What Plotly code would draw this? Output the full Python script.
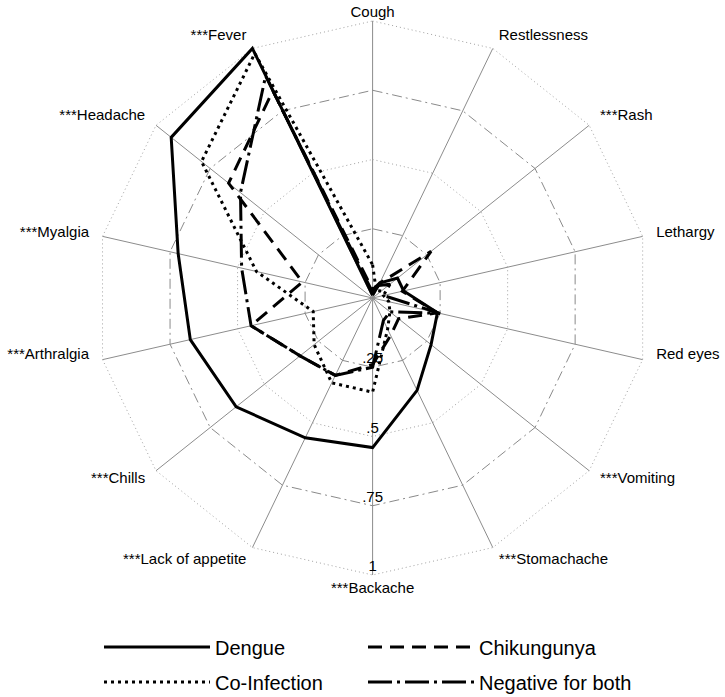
import plotly.graph_objects as go

categories = ["Cough", "Restlessness", "***Rash", "Lethargy", "Red eyes", "***Vomiting",
              "***Stomachache", "***Backache", "***Lack of appetite", "***Chills",
              "***Arthralgia", "***Myalgia", "***Headache", "***Fever"]

dengue       = [0.01, 0.06, 0.115, 0.115, 0.24, 0.27, 0.37, 0.54, 0.56, 0.63, 0.675, 0.72, 0.93, 1.00]
co_infection = [0.12, 0.03, 0.04, 0.04, 0.06, 0.08, 0.125, 0.34, 0.34, 0.27, 0.22, 0.43, 0.79, 0.98]
chikungunya  = [0.03, 0.06, 0.27, 0.11, 0.24, 0.12, 0.15, 0.24, 0.31, 0.335, 0.45, 0.26, 0.665, 0.83]
negative     = [0.02, 0.05, 0.08, 0.04, 0.25, 0.08, 0.09, 0.25, 0.31, 0.335, 0.45, 0.485, 0.61, 0.89]

grid_levels = [0.25, 0.5, 0.75, 1.0]
grid_labels = [".25", ".5", ".75", "1"]

# where each category label sits relative to its spoke end
label_radius = [1.0, 1.05, 1.05, 1.05, 1.05, 1.05, 1.05, 1.05, 1.05, 1.05, 1.05, 1.05, 1.05, 1.05]
label_positions = ["top center", "middle right", "middle right", "middle right", "top right",
                   "middle right", "middle right", "middle center", "middle left", "middle left",
                   "top left", "middle left", "middle left", "middle left"]

FONT = "Liberation Sans, Arial, sans-serif"
R_MAX = 1.07      # radial range headroom so the labels fit inside the subplot

def closed(vals):
    return list(vals) + [vals[0]]

theta_c = closed(categories)

fig = go.Figure()

# spokes (solid grey) from centre to the outer ring
spoke_r, spoke_t = [], []
for c in categories:
    spoke_r += [0, 1, None]
    spoke_t += [c, c, None]
fig.add_trace(go.Scatterpolar(
    r=spoke_r, theta=spoke_t, mode="lines",
    line=dict(color="#8c8c8c", width=1), showlegend=False, hoverinfo="skip"))

# radial grid polygons
for lvl in grid_levels:
    dotted = lvl in (0.5, 1.0)
    fig.add_trace(go.Scatterpolar(
        r=[lvl] * len(theta_c), theta=theta_c, mode="lines",
        line=dict(color="#a0a0a0" if dotted else "#8a8a8a", width=1,
                  dash="1px,3px" if dotted else "10px,4px,2px,4px"),
        showlegend=False, hoverinfo="skip"))

series = [
    ("Dengue", dengue, "solid", "legend"),
    ("Chikungunya", chikungunya, "14px,8px", "legend2"),
    ("Co-Infection", co_infection, "3px,4px", "legend3"),
    ("Negative for both", negative, "24px,5px,3px,5px", "legend4"),
]
for name, vals, dash, lg in series:
    fig.add_trace(go.Scatterpolar(
        r=closed(vals), theta=theta_c, mode="lines", name=name,
        line=dict(color="black", width=3, dash=dash), legend=lg))

# radial tick labels along the Backache spoke
fig.add_trace(go.Scatterpolar(
    r=grid_levels, theta=["***Backache"] * len(grid_levels), mode="text",
    text=grid_labels, textposition="top center",
    textfont=dict(family=FONT, size=15, color="black"),
    showlegend=False, hoverinfo="skip"))

# category labels just outside the outer ring
fig.add_trace(go.Scatterpolar(
    r=label_radius, theta=categories, mode="text",
    text=categories, textposition=label_positions, cliponaxis=False,
    textfont=dict(family=FONT, size=15, color="black"),
    showlegend=False, hoverinfo="skip"))

W, H = 725, 697
cx, cy, R = 372.6, 298.0, 277.0
RF = R * R_MAX

def legend_box(x_px, y_px):
    return dict(orientation="h", x=x_px / W, y=(H - y_px) / H, xanchor="left", yanchor="middle",
                itemwidth=106, font=dict(family=FONT, size=20, color="black"),
                bgcolor="rgba(0,0,0,0)")

fig.update_layout(
    width=W, height=H,
    margin=dict(l=0, r=0, t=0, b=0, autoexpand=False),
    paper_bgcolor="white", plot_bgcolor="white",
    font=dict(family=FONT, size=15, color="black"),
    polar=dict(
        domain=dict(x=[(cx - RF) / W, (cx + RF) / W], y=[(H - cy - RF) / H, (H - cy + RF) / H]),
        gridshape="linear",
        bgcolor="white",
        angularaxis=dict(categoryorder="array", categoryarray=categories,
                         direction="clockwise", rotation=90,
                         showline=False, showgrid=False,
                         ticks="", showticklabels=False),
        radialaxis=dict(range=[0, R_MAX], showgrid=False, showline=False,
                        showticklabels=False, ticks=""),
    ),
    legend=legend_box(99, 647),
    legend2=legend_box(363, 647),
    legend3=legend_box(99, 682),
    legend4=legend_box(363, 682),
)

fig.write_html("out.html", config={"displayModeBar": False},
               post_script="document.body.style.margin='0px';")
